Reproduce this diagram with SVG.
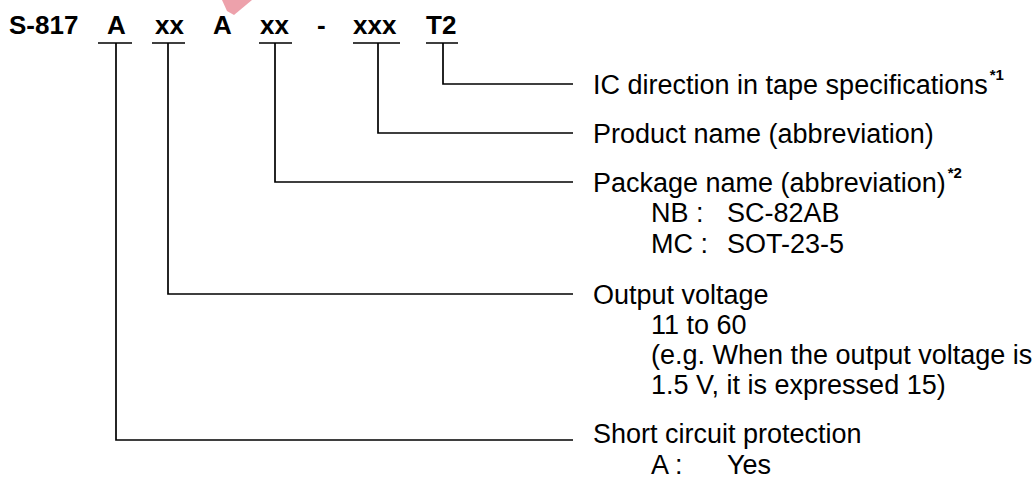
<svg xmlns="http://www.w3.org/2000/svg" width="1034" height="479" viewBox="0 0 1034 479">
<style>
.code{font-family:"Liberation Sans",Arial,sans-serif;font-size:26px;font-weight:bold;fill:#000}
.lbl{font-family:"Liberation Sans",Arial,sans-serif;font-size:27px;fill:#000}
.sup{font-family:"Liberation Sans",Arial,sans-serif;font-size:15px;font-weight:bold;fill:#000}
.ln{fill:none;stroke:#000;stroke-width:1.7}
</style>
<rect width="1034" height="479" fill="#fff"/>
<polygon points="222,0 252,0 234,15 227,11" fill="#e88a96" opacity="0.8"/>
<g id="code">
<text class="code" x="9" y="34">S-817</text>
<text class="code" x="107" y="34">A</text>
<text class="code" x="155" y="34">xx</text>
<text class="code" x="213" y="34">A</text>
<text class="code" x="260" y="34">xx</text>
<text class="code" x="317" y="34">-</text>
<text class="code" x="353" y="34">xxx</text>
<text class="code" x="426" y="34">T2</text>
</g>
<g id="connectors">
<path class="ln" d="M98,43H132M116,43V440H573"/>
<path class="ln" d="M152,43H185M168,43V294H573"/>
<path class="ln" d="M259,43H292M275,43V182H573"/>
<path class="ln" d="M353,43H400M378,43V133H573"/>
<path class="ln" d="M426,43H458M443,43V84H573"/>
</g>
<g id="tape">
<text class="lbl" x="593" y="94">IC direction in tape specifications<tspan class="sup" dx="2" dy="-14">*1</tspan></text>
</g>
<g id="product">
<text class="lbl" x="593" y="143">Product name (abbreviation)</text>
</g>
<g id="package">
<text class="lbl" x="593" y="192">Package name (abbreviation)<tspan class="sup" dx="2" dy="-14">*2</tspan></text>
<text class="lbl" x="651" y="222">NB :</text>
<text class="lbl" x="727" y="222">SC-82AB</text>
<text class="lbl" x="651" y="253">MC :</text>
<text class="lbl" x="727" y="253">SOT-23-5</text>
</g>
<g id="voltage">
<text class="lbl" x="593" y="304">Output voltage</text>
<text class="lbl" x="651" y="334">11 to 60</text>
<text class="lbl" x="651" y="364">(e.g. When the output voltage is</text>
<text class="lbl" x="651" y="394">1.5 V, it is expressed 15)</text>
</g>
<g id="protection">
<text class="lbl" x="593" y="443">Short circuit protection</text>
<text class="lbl" x="651" y="474">A :</text>
<text class="lbl" x="727" y="474">Yes</text>
</g>
</svg>
